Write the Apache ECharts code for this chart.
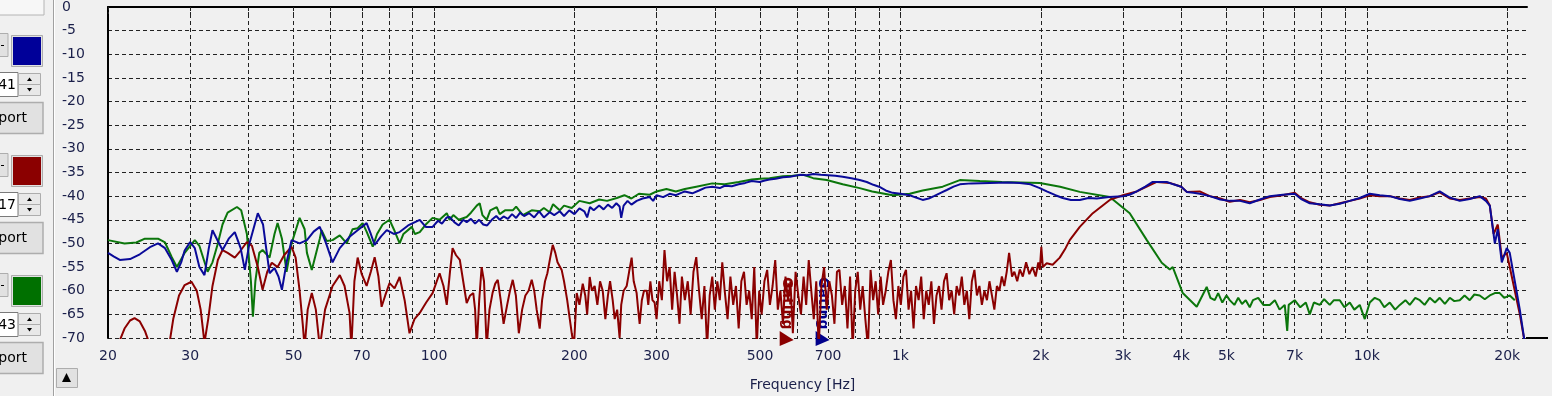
<!DOCTYPE html>
<html>
<head>
<meta charset="utf-8">
<script src="https://cdn.jsdelivr.net/npm/echarts@6/dist/echarts.min.js"></script>
<style>
html,body{margin:0;padding:0;background:#f0f0f0;}
#chart{width:1552px;height:396px;}
</style>
</head>
<body>
<div id="chart"></div>
<script>
// axis ticks / labels (Hz)
var gridFreqs = [20,30,40,50,60,70,80,90,100,200,300,400,500,600,700,800,900,1000,2000,3000,4000,5000,6000,7000,8000,9000,10000,20000];
var labelFreqs = [20,30,50,70,100,200,300,500,700,1000,2000,3000,4000,5000,7000,10000,20000];
var gateFreqs = [551, 658];
var gateColors = ['#8b0000', '#00008b'];

// channel panel on the left
var panelColors = ['#000099', '#8b0000', '#007000'];
var panelValues = ['41', '17', '43'];

// green curve [Hz, dB]
var green = [[20,-49.3],[21.7,-50],[23,-49.8],[24,-49],[25.6,-49],[26.5,-49.8],[27.4,-52.9],[28.1,-55],[29.2,-52],[30.7,-49.3],[31.4,-50.5],[32.7,-56],[33.5,-54],[34.4,-50],[35.2,-46],[36.1,-43.5],[37.8,-42.3],[38.6,-43],[39.7,-48],[40.5,-58],[40.9,-65.5],[41.4,-58],[42.2,-52],[42.9,-51.4],[44.4,-53],[45.5,-48],[46.2,-45.7],[47.2,-49],[48.3,-56],[49.5,-50],[51.5,-44.6],[52.8,-47],[53.4,-52],[54.7,-55.6],[56.9,-49],[57.4,-47.2],[58.9,-49.5],[60.6,-49.3],[62.8,-48.3],[65,-50],[66.9,-47],[68.6,-46.8],[70.3,-45.7],[71.7,-47.5],[73.9,-50.7],[75.5,-48],[77.6,-46],[80.3,-45],[82,-47],[84.4,-50],[86,-48],[89.6,-46.5],[91,-48],[93.2,-47.6],[96,-46],[99.3,-44.6],[102.8,-45],[106.5,-43.6],[108,-45],[110,-44],[113,-45],[117.5,-44.4],[120,-43.5],[123.5,-42],[125.3,-41.5],[127,-44],[129.7,-45],[132,-43],[136.3,-42.3],[138.3,-43.8],[142,-43],[147.5,-43],[150,-42.2],[155,-44],[162,-43],[168.5,-43.2],[172,-42.5],[177,-43.4],[180,-41.7],[186,-43],[190,-42],[197.4,-42.5],[205,-41],[215.7,-41.5],[226,-40.7],[235,-41],[246.5,-40.4],[256,-39.8],[265,-40.5],[275,-39.5],[290,-39.7],[300,-39],[315,-38.5],[330,-39],[345,-38.5],[365,-38],[395,-37.3],[420,-37.5],[450,-37],[480,-36.5],[500,-36.3],[524,-36.2],[560,-35.8],[587,-35.7],[620,-35.5],[650,-36.2],[695,-36.6],[752,-37.5],[818,-38.3],[870,-39],[962,-39.8],[1047,-39.5],[1116,-38.8],[1232,-38],[1341,-36.6],[1480,-36.8],[1650,-37],[1990,-37.2],[2200,-38],[2424,-39.1],[2811,-40.2],[3102,-43.6],[3375,-49.3],[3633,-54.1],[3780,-55.5],[3836,-55],[4030,-60.5],[4318,-63.4],[4536,-59.2],[4620,-61.5],[4720,-62],[4800,-60.5],[4900,-62.5],[5000,-61],[5082,-62],[5200,-63],[5300,-61.5],[5400,-62.8],[5500,-62],[5610,-63.5],[5700,-62],[5850,-61.5],[6000,-63],[6192,-63],[6350,-62],[6500,-64],[6668,-63],[6750,-68.5],[6800,-63],[7003,-62],[7200,-63.5],[7400,-62.5],[7545,-65],[7700,-62.5],[7925,-63],[8100,-61.8],[8326,-63],[8500,-62],[8750,-62],[8950,-63.5],[9192,-62.5],[9400,-64],[9656,-63],[9900,-66],[10146,-62.5],[10400,-61.5],[10660,-62],[10900,-63.5],[11200,-62.5],[11500,-64],[11770,-63],[12100,-62],[12360,-63],[12700,-61.5],[12990,-62],[13300,-63],[13640,-61.5],[14000,-62.5],[14330,-61.5],[14700,-62.8],[15060,-61.5],[15400,-62.2],[15820,-62],[16200,-61],[16620,-62],[17000,-60.8],[17460,-61],[17900,-61.8],[18350,-61],[18810,-60.5],[19270,-60.5],[19700,-61.5],[20250,-61],[20760,-62]];

// red curve [Hz, dB]
var red = [[21.2,-70.5],[21.7,-68],[22.3,-66.3],[22.8,-65.8],[23.4,-66.5],[24,-68.5],[24.5,-71],[27.1,-71],[27.6,-66],[28.4,-61],[29.2,-58.8],[30.2,-58.1],[31,-60],[31.6,-64],[32.2,-71],[32.8,-66],[33.5,-59],[34.4,-53.5],[35.2,-51.4],[36.1,-52],[37.4,-53],[38.5,-51.5],[39.7,-49.7],[40.7,-50.5],[41.9,-55],[42.9,-59.8],[43.9,-56],[44.9,-54.1],[46.2,-55],[47.7,-52.5],[49.5,-50.7],[50.5,-53],[51.5,-60],[52.3,-67],[52.8,-72],[53.6,-64],[54.7,-60.5],[55.8,-64],[56.9,-72],[58.4,-64],[60.6,-59],[62.8,-56.7],[64.3,-59],[65.9,-64.7],[66.5,-72],[67.5,-58],[68.6,-53],[70,-56.5],[71.7,-59],[73.2,-56],[74.6,-52.9],[76,-57],[77.2,-63.4],[78.6,-61],[80.3,-58.4],[82.3,-59.5],[84.4,-57.1],[86.5,-62],[88.6,-69],[90.8,-66],[93.2,-64.7],[96.2,-62.5],[99.3,-60.5],[102.8,-56.3],[104.8,-59],[106.5,-63],[108.2,-56],[109.6,-51],[111.5,-52.5],[113.6,-53.5],[115.5,-58],[117.5,-62.6],[119.5,-61],[121.4,-60.5],[122.5,-64],[123.5,-72],[125,-62],[126.5,-55],[128,-58],[129.7,-72],[131.5,-64],[133.5,-60.5],[135.3,-58.5],[137,-57.7],[139,-62],[141,-67],[143.5,-63],[145.5,-60],[147.5,-57.7],[149.8,-61],[152,-69],[154.5,-64],[157,-61],[159.5,-60],[162,-57.7],[164,-60],[166,-64],[168.5,-68],[170.5,-62],[173,-58],[175,-56.3],[177.5,-53],[179.7,-50.3],[182,-52],[184,-54],[187.8,-55.6],[190,-58],[193,-62],[195.5,-66],[197.4,-69],[199.5,-72],[202.3,-60.5],[205,-63],[208.4,-58.5],[211,-61],[213,-65],[215.7,-57.1],[218,-60],[221,-59],[224,-63],[227,-58],[230,-60],[233,-66],[236,-61],[238.5,-58],[241.6,-62],[244,-66],[247,-64],[250,-70],[252,-63],[255,-60],[258.9,-59],[262,-56],[265.3,-53],[268,-58],[271.9,-60.5],[274,-64],[276,-67],[279,-62],[282,-60],[285.8,-60],[288,-63],[291,-58],[294,-62],[297.2,-62.5],
[300,-66],[304,-58],[308,-62],[312,-51.4],[316,-58],[320,-55],[324,-64],[328,-56],[332,-61],[336,-67],[340,-57],[345,-62],[350,-58],[355,-65],[360,-56],[365,-52.9],[370,-60],[375,-66],[380,-59],[385,-72],[390,-61],[395,-57],[400,-64],[405,-58],[410,-62],[415,-54],[420,-60],[426,-66],[432,-57],[438,-63],[444,-59],[450,-68],[456,-58],[462,-56],[468,-63],[474,-60],[480,-66],[486,-55],[492,-72],[498,-60],[504,-65],[511,-58],[518,-55.6],[525,-63],[532,-59],[539,-53.5],[546,-64],[553,-60],[560,-67],[567,-57],[574,-62],[581,-58],[588,-69],[596,-56],[604,-61],[612,-65],[620,-57],[628,-63],[636,-53.5],[644,-60],[652,-66],[660,-58],[668,-72],[677,-59],[686,-55],[695,-64],[704,-58],[713,-61],[722,-67],[731,-56],[740,-55.6],[750,-63],[760,-59],[770,-68],[780,-57],[790,-72],[800,-60],[810,-56],[820,-64],[830,-59],[841,-66],[852,-72],[863,-55.6],[874,-62],[885,-58],[896,-65],[907,-57],[918,-63],[930,-60],[942,-56],[954,-53.5],[966,-62],[978,-66],[990,-59],[1002,-63],[1015,-57],[1028,-55.6],[1041,-64],[1054,-60],[1067,-68],[1080,-59],[1094,-62],[1108,-57],[1122,-66],[1136,-60],[1150,-63],[1165,-58],[1180,-67],[1195,-61],[1210,-59],[1225,-64],[1240,-58],[1256,-56.3],[1272,-62],[1288,-60],[1304,-65],[1320,-59],[1337,-61],[1354,-57],[1371,-63],[1388,-60],[1405,-66],[1423,-58],[1441,-55.6],[1459,-61],[1477,-59],[1495,-63],[1514,-60],[1533,-62],[1552,-58],[1571,-61],[1590,-64],[1610,-59],[1630,-60],[1650,-57],[1670,-59],[1690,-56],[1710,-52],
[1735,-57],[1755,-56],[1780,-58],[1803,-55.5],[1830,-57],[1860,-54],[1890,-56.5],[1920,-55],[1950,-57],[1975,-54],[1990,-55.6],[2005,-50.7],[2020,-55],[2059,-54.2],[2120,-54.5],[2196,-53],[2260,-51],[2307,-49.3],[2424,-46.5],[2585,-43.6],[2811,-40.8],[2998,-39.8],[3212,-39],[3400,-37.8],[3545,-37],[3780,-37.2],[4000,-38],[4111,-39.1],[4382,-39],[4605,-40],[4850,-40.5],[5082,-41.2],[5350,-40.8],[5610,-41.3],[5900,-40.8],[6192,-40.2],[6600,-39.8],[7003,-39.3],[7250,-40.5],[7545,-41.3],[7925,-41.8],[8326,-42],[8750,-41.5],[9192,-41],[9656,-40.5],[10146,-39.8],[10660,-40],[11200,-40],[11770,-40.5],[12360,-40.8],[12990,-40.3],[13640,-40],[14330,-39.2],[15060,-40.5],[15820,-40.8],[16620,-40.5],[17460,-40.2],[18000,-40.5],[18350,-42],[18700,-48],[19090,-46],[19470,-53],[19950,-52],[20250,-55],[20760,-60],[21280,-65],[21810,-71]];

// blue curve [Hz, dB]
var blue = [[20,-52],[20.6,-52.8],[21.2,-53.5],[22.3,-53.3],[23.4,-52.3],[24.6,-50.8],[25.6,-50],[26.5,-51],[27.4,-53.5],[28.1,-56],[28.7,-54],[29.2,-51.5],[30,-49.7],[30.7,-51],[31.4,-55],[32.2,-56.7],[32.9,-51],[33.5,-47.2],[34.4,-49.5],[35.2,-51.4],[36.3,-49],[37.4,-47.6],[38.5,-51],[39.3,-55.6],[40.2,-50],[41.9,-43.6],[43,-46],[43.8,-52],[44.4,-56.3],[45.5,-55.2],[46.4,-57],[47.2,-59.8],[48.3,-54],[49.5,-49.3],[51.5,-50],[53.4,-49.3],[55.2,-47.5],[56.9,-46.5],[58.7,-50],[60.6,-54],[62.8,-51],[65.9,-48.6],[69,-47],[71.7,-45.7],[73.2,-48],[74.6,-50.3],[77,-48.5],[79.2,-47.2],[82,-48],[84.4,-47.6],[88,-46.2],[93.2,-45],[96,-46.5],[99.3,-46.5],[102,-45.2],[104,-45.8],[106.5,-44.5],[108,-44.4],[110.5,-45.5],[113,-46.2],[115.5,-45],[117.5,-45.5],[120,-44.8],[122.5,-45.8],[125,-45],[127.5,-46],[130,-46.2],[133,-45],[136,-44.2],[138.3,-45],[141,-44.3],[144,-44.8],[147,-43.8],[150,-44.6],[153,-43.5],[156,-44.2],[160,-43.6],[164,-44.5],[168,-43.2],[172,-44.5],[177,-43.4],[181,-44],[186,-43.2],[190,-44.2],[195,-43],[200,-43.8],[205,-42.6],[210,-43.2],[213,-44.5],[216,-42.3],[220,-43],[226,-42],[231,-42.8],[236,-41.8],[241,-42.5],[246,-41.5],[250,-42.2],[252,-44.6],[255,-42],[260,-41],[265,-41.8],[272,-41],[280,-40.5],[290,-40.2],[295,-41],[300,-39.8],[310,-40.2],[320,-39.5],[330,-39.8],[345,-39],[358,-39.4],[370,-38.8],[382,-38.2],[395,-38],[410,-38.3],[420,-37.8],[435,-37.9],[450,-37.5],[465,-37.2],[480,-36.8],[499,-37],[512,-36.7],[524,-36.5],[540,-36.3],[560,-36],[580,-35.9],[608,-35.5],[630,-35.6],[650,-35.3],[675,-35.5],[700,-35.6],[725,-35.7],[752,-35.9],[785,-36.2],[818,-36.6],[847,-37],[875,-37.6],[900,-38],[930,-38.8],[962,-39.3],[1000,-39.5],[1047,-39.8],[1080,-40.3],[1116,-40.8],[1150,-40.5],[1180,-40],[1220,-39.3],[1257,-38.7],[1300,-38],[1341,-37.5],[1420,-37.3],[1554,-37.2],[1700,-37.1],[1803,-37.2],[1900,-37.5],[1990,-38.3],[2059,-39],[2150,-39.8],[2228,-40.4],[2320,-40.8],[2424,-40.8],[2530,-40.4],[2637,-40.5],[2800,-40.2],[2998,-40],[3100,-39.7],[3212,-39],[3350,-38],[3475,-37],[3600,-37],[3724,-37],[3850,-37.5],[4000,-38],[4111,-39.1],[4250,-39.3],[4382,-39.5],[4605,-40],[4850,-40.7],[5082,-41],[5350,-41],[5610,-41.5],[5900,-40.7],[6192,-40],[6600,-39.7],[7003,-39.5],[7250,-40.7],[7545,-41.5],[7925,-41.7],[8326,-42],[8750,-41.6],[9192,-41],[9656,-40.4],[10146,-39.5],[10660,-39.8],[11200,-40],[11770,-40.6],[12360,-41],[12990,-40.5],[13640,-40],[14330,-39],[15060,-40.3],[15820,-41],[16620,-40.6],[17460,-40],[18000,-41],[18350,-42],[18810,-50],[19090,-47],[19470,-54],[19950,-51],[20250,-52],[20760,-58],[21280,-64],[21810,-71]];

var labelFont = 'DejaVu Sans';
var labelColor = '#1a1f4a';

var myChart = echarts.init(document.getElementById('chart'));

function curve(name, color, data) {
    return {
        name: name,
        type: 'line',
        data: data,
        showSymbol: false,
        symbol: 'none',
        clip: true,
        lineStyle: { color: color, width: 2 },
        animation: false
    };
}

option = {
    backgroundColor: '#f0f0f0',
    animation: false,
    grid: { left: 108, right: 25, top: 7, bottom: 58, containLabel: false, outerBoundsMode: 'none' },
    xAxis: {
        type: 'log',
        logBase: 10,
        min: 20,
        max: 22050,
        name: 'Frequency [Hz]',
        nameLocation: 'middle',
        nameGap: 40,
        nameTextStyle: { fontFamily: labelFont, fontSize: 14, color: labelColor, padding: [0, 30, 0, 0] },
        axisLine: { show: true, lineStyle: { color: '#000', width: 2 } },
        axisTick: { show: true, customValues: gridFreqs, length: 7, lineStyle: { color: '#222', type: [3, 2] } },
        axisLabel: {
            customValues: labelFreqs,
            margin: 11,
            fontFamily: labelFont,
            fontSize: 14,
            color: labelColor,
            formatter: function (v) {
                v = Math.round(v);
                return v >= 1000 ? (v / 1000) + 'k' : String(v);
            }
        },
        splitLine: { show: true, lineStyle: { color: '#222', width: 1, type: [4, 3] } },
        minorTick: { show: false }
    },
    yAxis: {
        type: 'value',
        min: -70,
        max: 0,
        interval: 5,
        axisLine: { show: true, onZero: false, lineStyle: { color: '#000', width: 2 } },
        axisTick: { show: false },
        axisLabel: { align: 'left', margin: 46, fontFamily: labelFont, fontSize: 14, color: labelColor },
        splitLine: { show: true, lineStyle: { color: '#222', width: 1, type: [4, 3] } }
    },
    series: [
        curve('green', '#0b760b', green),
        curve('red', '#8b0000', red),
        curve('blue', '#0a0a99', blue)
    ]
};
myChart.setOption(option);

// left panel + gating markers
var g = [];
g.push({ type: 'rect', shape: { x: -2, y: -2, width: 46, height: 17 }, style: { fill: '#f7f7f7', stroke: '#b4b4b4' } });
g.push({ type: 'line', shape: { x1: 53.5, y1: 0, x2: 53.5, y2: 396 }, style: { stroke: '#a0a0a0', lineWidth: 1 } });
g.push({ type: 'line', shape: { x1: 54.5, y1: 0, x2: 54.5, y2: 396 }, style: { stroke: '#ffffff', lineWidth: 1 } });
for (var i = 0; i < panelColors.length; i++) {
    var o = i * 120;
    g.push({ type: 'rect', shape: { x: -10, y: 33.5 + o, width: 18, height: 23 }, style: { fill: '#e1e1e1', stroke: '#adadad' } });
    g.push({ type: 'line', shape: { x1: 1, y1: 45.5 + o, x2: 4, y2: 45.5 + o }, style: { stroke: '#000', lineWidth: 1 } });
    g.push({ type: 'rect', shape: { x: 11.5, y: 35.5 + o, width: 31, height: 31 }, style: { fill: '#e1e1e1', stroke: '#adadad' } });
    g.push({ type: 'rect', shape: { x: 13, y: 37 + o, width: 28, height: 28 }, style: { fill: panelColors[i] } });
    g.push({ type: 'rect', shape: { x: -10, y: 72.5 + o, width: 28, height: 24 }, style: { fill: '#ffffff', stroke: '#7a7a7a' } });
    g.push({ type: 'text', x: 16, y: 85 + o, style: { text: panelValues[i], font: '14px DejaVu Sans', fill: '#000', align: 'right', verticalAlign: 'middle' } });
    g.push({ type: 'rect', shape: { x: 18.5, y: 73.5 + o, width: 22, height: 11 }, style: { fill: '#e8e8e8', stroke: '#adadad' } });
    g.push({ type: 'rect', shape: { x: 18.5, y: 84.5 + o, width: 22, height: 11 }, style: { fill: '#e8e8e8', stroke: '#adadad' } });
    g.push({ type: 'polygon', shape: { points: [[27, 81 + o], [32, 81 + o], [29.5, 77.5 + o]] }, style: { fill: '#000' } });
    g.push({ type: 'polygon', shape: { points: [[27, 88 + o], [32, 88 + o], [29.5, 91.5 + o]] }, style: { fill: '#000' } });
    g.push({ type: 'rect', shape: { x: -10, y: 102.5 + o, width: 53, height: 31 }, style: { fill: '#e1e1e1', stroke: '#adadad', lineWidth: 1.5 } });
    g.push({ type: 'text', x: 27, y: 118 + o, style: { text: 'port', font: '14px DejaVu Sans', fill: '#000', align: 'right', verticalAlign: 'middle' } });
}
g.push({ type: 'rect', shape: { x: 56.5, y: 368.5, width: 21, height: 19 }, style: { fill: '#e1e1e1', stroke: '#adadad' } });
g.push({ type: 'polygon', shape: { points: [[62, 382], [71, 382], [66.5, 373]] }, style: { fill: '#000' } });
// axis line continues past the grid
g.push({ type: 'line', shape: { x1: 1526, y1: 338, x2: 1548, y2: 338 }, style: { stroke: '#000', lineWidth: 2 } });

for (var j = 0; j < gateFreqs.length; j++) {
    var px = myChart.convertToPixel({ xAxisIndex: 0 }, gateFreqs[j]);
    var py = myChart.convertToPixel({ yAxisIndex: 0 }, -70);
    g.push({ type: 'polygon', shape: { points: [[px, py - 7], [px, py + 8], [px + 14, py + 2]] }, style: { fill: gateColors[j] } });
    g.push({ type: 'text', x: px + 7, y: py - 61, rotation: -Math.PI / 2,
        style: { text: 'Gating', font: 'bold 14px DejaVu Sans', fill: gateColors[j], align: 'left', verticalAlign: 'middle' } });
}
myChart.setOption({ graphic: g });
</script>
</body>
</html>
